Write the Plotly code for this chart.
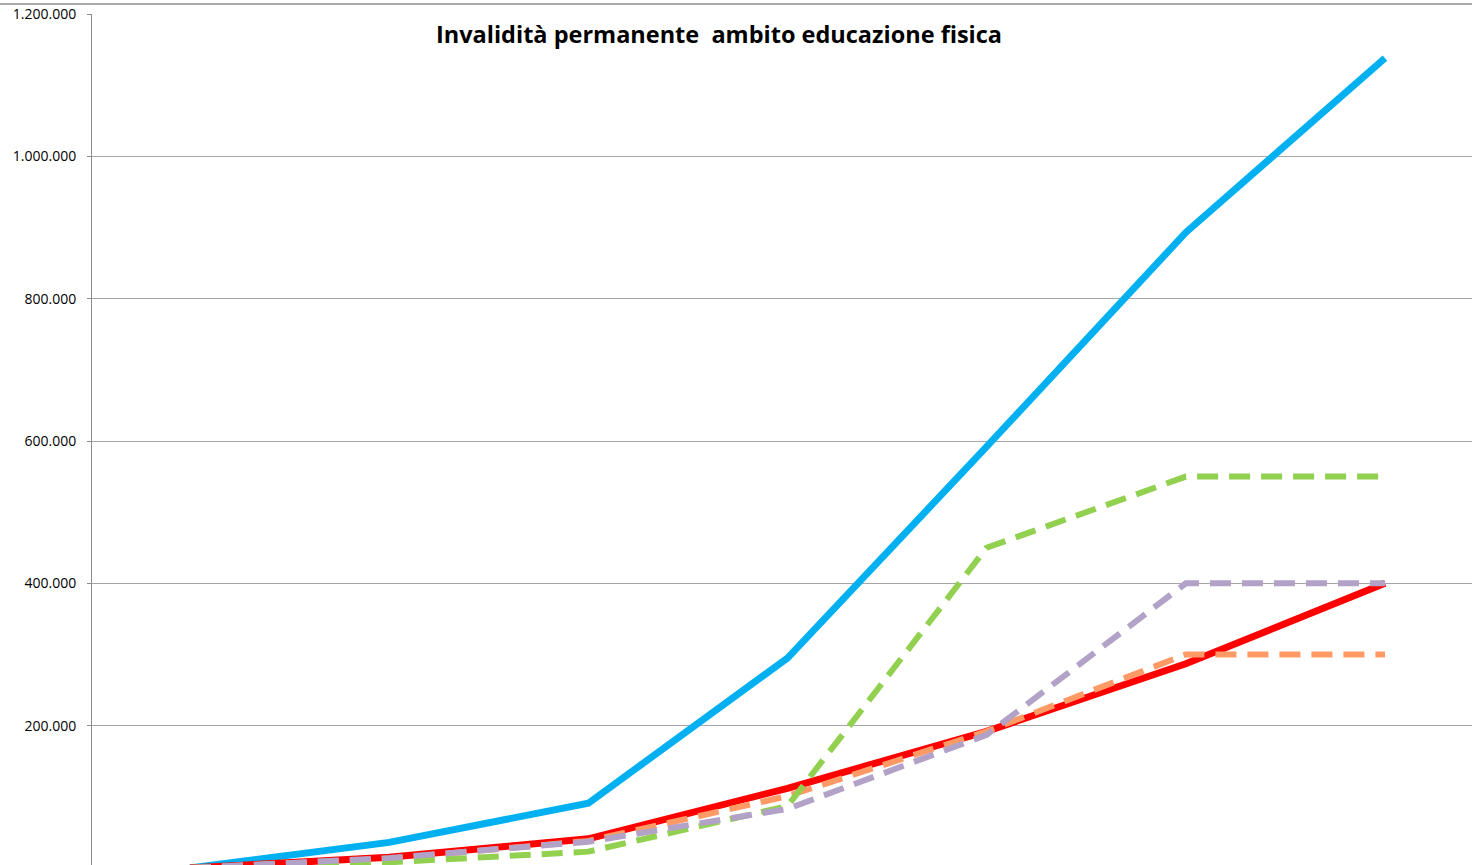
import plotly.graph_objects as go

# categories (x-axis labels not visible in the reference; indices used)
categories = [0, 1, 2, 3, 4, 5, 6]

blue_values = [0, 36000, 91000, 295000, 592000, 893000, 1138000]
red_values = [0, 15000, 41000, 112000, 192000, 287000, 400000]
orange_values = [0, 13000, 38000, 101000, 192000, 300000, 300000]
green_values = [0, 8000, 23000, 87000, 450000, 550000, 550000]
purple_values = [0, 14000, 37000, 83000, 187000, 400000, 400000]

y_ticks = [0, 200000, 400000, 600000, 800000, 1000000, 1200000]

title_text = "Invalidità permanente  ambito educazione fisica"

fig = go.Figure()
fig.add_trace(go.Scatter(x=categories, y=blue_values, mode="lines", name="Serie 1",
                         line=dict(color="#00B0F0", width=7)))
fig.add_trace(go.Scatter(x=categories, y=red_values, mode="lines", name="Serie 2",
                         line=dict(color="#FF0000", width=7)))
fig.add_trace(go.Scatter(x=categories, y=orange_values, mode="lines", name="Serie 3",
                         line=dict(color="#FF9966", width=6, dash="21px,11px")))
fig.add_trace(go.Scatter(x=categories, y=green_values, mode="lines", name="Serie 4",
                         line=dict(color="#92D050", width=6, dash="21px,11px")))
fig.add_trace(go.Scatter(x=categories, y=purple_values, mode="lines", name="Serie 5",
                         line=dict(color="#B3A2C7", width=6, dash="21px,11px")))

fig.update_layout(
    width=1472, height=865,
    margin=dict(l=92, r=0, t=14, b=0, pad=0),
    paper_bgcolor="white", plot_bgcolor="white",
    showlegend=False,
    separators=",.",
    font=dict(family="Open Sans, Liberation Sans, sans-serif", color="black", size=14),
    title=dict(text=title_text, x=719 / 1472, xanchor="center",
               y=1 - 35 / 865, yanchor="middle",
               font=dict(family="Open Sans, sans-serif", size=23.5, color="black", weight="bold")),
    xaxis=dict(range=[-0.492, 6.437], showticklabels=False, showgrid=False, zeroline=False,
               showline=False, ticks=""),
    yaxis=dict(range=[4216, 1200000], tickvals=y_ticks, tickformat=",d",
               showgrid=True, gridcolor="#A6A6A6", gridwidth=1, zeroline=False,
               showline=True, linecolor="#8C8C8C", linewidth=1,
               ticks="outside", ticklen=4, tickcolor="#8C8C8C",
               ticklabelstandoff=8,
               tickfont=dict(family="Open Sans, sans-serif", size=14, color="black")),
    shapes=[dict(type="line", xref="paper", yref="paper",
                 x0=-92 / 1380, x1=1.0, y0=1 + 10 / 851, y1=1 + 10 / 851,
                 line=dict(color="#8C8C8C", width=1.5))],
)

fig.write_html("out.html", config={"displayModeBar": False},
               post_script="document.body.style.margin='0';document.body.style.overflow='hidden';")
